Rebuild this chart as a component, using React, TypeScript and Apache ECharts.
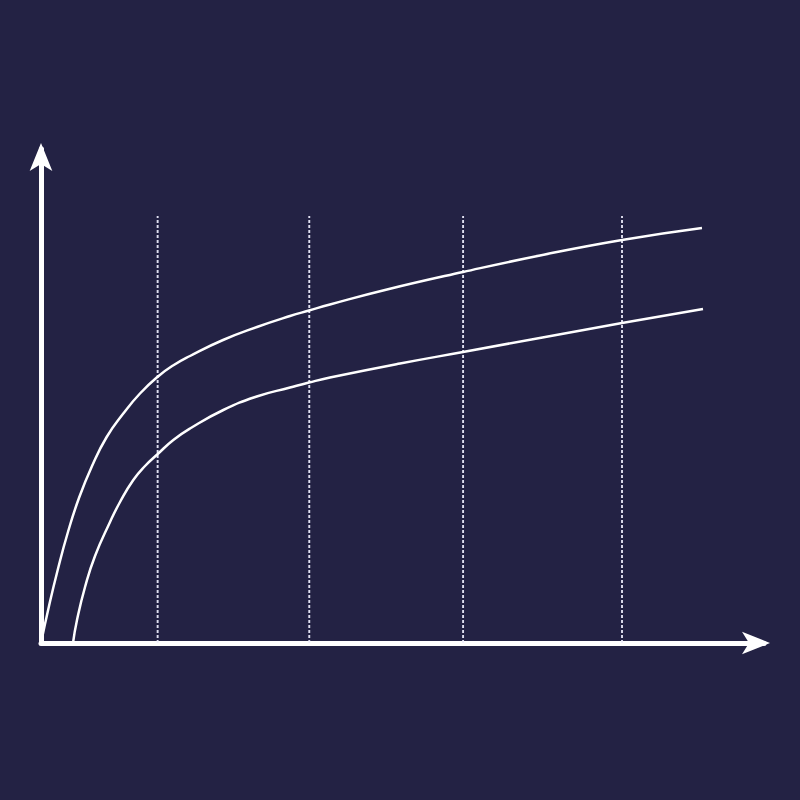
import * as echarts from 'echarts';
import React, { useEffect, useRef } from 'react';

// Upper curve, [x, y] in axis units (0-100 on both axes)
const upperCurve: [number, number][] = [
  [0, 0],
  [1.1, 7.4],
  [2.29, 14.6],
  [3.66, 22.0],
  [5.21, 29.0],
  [7.0, 35.4],
  [9.01, 41.2],
  [11.29, 45.9],
  [13.58, 49.9],
  [16.05, 53.3],
  [18.11, 55.5],
  [20.44, 57.4],
  [24.97, 60.6],
  [29.63, 63.2],
  [34.16, 65.4],
  [36.76, 66.5],
  [39.64, 67.7],
  [47.19, 70.6],
  [57.89, 74.2],
  [68.45, 77.5],
  [79.7, 80.6],
  [90.67, 83.0],
];

// Lower curve
const lowerCurve: [number, number][] = [
  [4.39, 0],
  [4.94, 4.6],
  [6.04, 11.2],
  [7.41, 17.4],
  [9.47, 24.2],
  [10.84, 28.2],
  [12.66, 32.6],
  [14.27, 35.4],
  [16.09, 37.9],
  [18.15, 40.6],
  [20.44, 42.9],
  [25.01, 46.6],
  [29.59, 49.3],
  [34.16, 51.1],
  [36.76, 52.1],
  [39.64, 53.1],
  [49.25, 55.9],
  [57.89, 58.2],
  [79.7, 64.0],
  [90.81, 66.8],
];

// Dotted vertical guides
const guideXs = [16.0, 36.8, 57.9, 79.7];
const guideTop = 85.4;

const BG = '#232244';

const App: React.FC = () => {
  const chartRef = useRef<HTMLDivElement>(null);

  useEffect(() => {
    let chart: echarts.ECharts | undefined;
    if (chartRef.current) {
      chart = echarts.init(chartRef.current, undefined, { renderer: 'svg' });

      // axis lines stop a few px short of the arrow tips
      const xMax = (100 * 723) / 729;
      const yMax = (100 * 494) / 500;

      const axisCommon = {
        type: 'value' as const,
        min: 0,
        axisTick: { show: false },
        axisLabel: { show: false },
        splitLine: { show: false },
        axisLine: {
          show: true,
          symbol: ['none', 'arrow'],
          symbolSize: [17, 28],
          symbolOffset: [0, 6],
          lineStyle: { color: '#ffffff', width: 5 },
        },
      };

      const guideSeries = guideXs.map((x) => ({
        type: 'line' as const,
        data: [
          [x, 0],
          [x, guideTop],
        ],
        showSymbol: false,
        silent: true,
        z: 1,
        lineStyle: { color: 'rgba(240,240,255,0.92)', width: 1.9, type: [3, 2] },
      }));

      const curveStyle = { color: '#ffffff', width: 2.5 };

      const option: echarts.EChartsOption = {
        animation: false,
        backgroundColor: BG,
        grid: { left: 41, right: 36, top: 149, bottom: 157 },
        xAxis: { ...axisCommon, max: xMax },
        yAxis: { ...axisCommon, max: yMax },
        series: [
          ...guideSeries,
          {
            type: 'line',
            data: upperCurve,
            smooth: 0.5,
            showSymbol: false,
            z: 3,
            lineStyle: curveStyle,
          },
          {
            type: 'line',
            data: lowerCurve,
            smooth: 0.5,
            showSymbol: false,
            z: 3,
            lineStyle: curveStyle,
          },
        ],
      };

      chart.setOption(option);
    }

    return () => {
      chart?.dispose();
    };
  }, []);

  return (
    <div
      ref={chartRef}
      style={{ position: 'fixed', top: 0, left: 0, width: '800px', height: '800px' }}
    />
  );
};

export default App;
